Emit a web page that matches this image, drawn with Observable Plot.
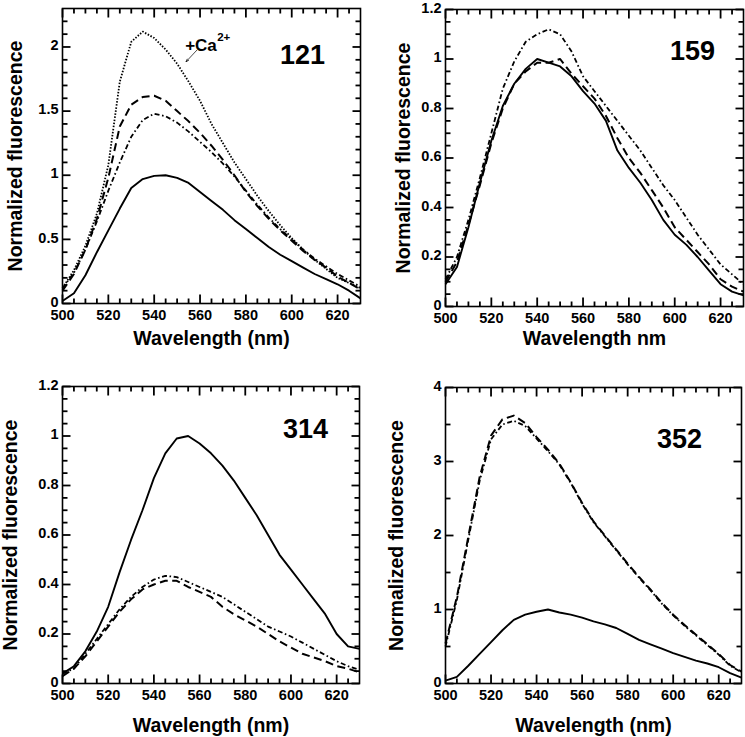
<!DOCTYPE html>
<html>
<head>
<meta charset="utf-8">
<script src="https://cdn.jsdelivr.net/npm/d3@7"></script>
<script src="https://cdn.jsdelivr.net/npm/@observablehq/plot@0.6"></script>
<style>
  body { margin: 0; background: #fff; }
  #wrap { position: relative; width: 745px; height: 737px; overflow: hidden; background: #fff; }
  #wrap svg { position: absolute; }
</style>
</head>
<body>
<div id="wrap"></div>
<script>
// ---------- data ----------
const wavelengths = [500,505,510,515,520,525,530,535,540,545,550,555,560,565,570,575,580,585,590,595,600,605,610,615,620,625,630];

// Panel 121
const p121_solid   = [0.02,0.08,0.22,0.40,0.57,0.74,0.90,0.97,0.995,1.00,0.98,0.94,0.87,0.80,0.73,0.65,0.58,0.51,0.44,0.38,0.33,0.28,0.23,0.19,0.15,0.10,0.04];
const p121_dashed  = [0.10,0.23,0.42,0.66,0.98,1.38,1.55,1.61,1.62,1.58,1.50,1.42,1.33,1.23,1.12,1.00,0.87,0.76,0.66,0.57,0.49,0.41,0.34,0.28,0.21,0.16,0.11];
const p121_dashdot = [0.12,0.24,0.42,0.64,0.88,1.10,1.30,1.43,1.48,1.46,1.41,1.34,1.26,1.18,1.09,0.99,0.88,0.77,0.67,0.58,0.50,0.42,0.35,0.29,0.23,0.18,0.13];
const p121_dotted  = [0.12,0.26,0.45,0.70,1.08,1.73,2.04,2.12,2.07,1.98,1.87,1.73,1.58,1.40,1.25,1.10,0.97,0.84,0.72,0.61,0.51,0.42,0.34,0.27,0.20,0.16,0.12];

// Panel 159
const p159_solid   = [0.09,0.16,0.32,0.50,0.67,0.81,0.90,0.96,1.00,0.985,0.97,0.93,0.87,0.82,0.75,0.63,0.56,0.50,0.43,0.35,0.29,0.25,0.20,0.145,0.09,0.06,0.045];
const p159_dashed  = [0.10,0.18,0.33,0.49,0.66,0.80,0.90,0.95,0.985,0.985,1.00,0.94,0.89,0.84,0.77,0.68,0.60,0.54,0.47,0.40,0.32,0.27,0.22,0.17,0.11,0.08,0.06];
const p159_dashdot = [0.11,0.20,0.35,0.52,0.70,0.88,0.99,1.07,1.10,1.12,1.10,1.03,0.93,0.87,0.81,0.75,0.69,0.63,0.56,0.49,0.43,0.36,0.29,0.23,0.17,0.13,0.09];

// Panel 314
const p314_solid   = [0.04,0.07,0.13,0.21,0.31,0.45,0.58,0.70,0.83,0.93,0.99,1.00,0.97,0.93,0.88,0.82,0.75,0.68,0.60,0.52,0.46,0.40,0.34,0.28,0.20,0.15,0.14];
const p314_dashed  = [0.03,0.06,0.11,0.17,0.23,0.29,0.34,0.38,0.40,0.415,0.415,0.39,0.37,0.35,0.31,0.28,0.255,0.23,0.20,0.17,0.145,0.12,0.105,0.09,0.07,0.06,0.045];
const p314_dashdot = [0.04,0.06,0.12,0.18,0.24,0.30,0.35,0.39,0.42,0.435,0.43,0.41,0.39,0.37,0.35,0.32,0.29,0.26,0.23,0.21,0.19,0.165,0.14,0.115,0.09,0.07,0.055];

// Panel 352
const p352_solid   = [0.04,0.09,0.24,0.40,0.56,0.72,0.86,0.93,0.97,1.00,0.96,0.93,0.89,0.84,0.80,0.75,0.67,0.59,0.53,0.47,0.41,0.36,0.31,0.27,0.22,0.14,0.08];
const p352_dashed  = [0.54,1.17,1.98,2.79,3.35,3.57,3.62,3.52,3.33,3.16,2.97,2.72,2.44,2.19,2.00,1.81,1.62,1.44,1.27,1.09,0.93,0.79,0.66,0.53,0.40,0.25,0.16];
const p352_dashdot = [0.50,1.13,1.94,2.74,3.30,3.50,3.55,3.48,3.31,3.14,2.96,2.71,2.43,2.18,1.99,1.80,1.61,1.43,1.26,1.08,0.92,0.78,0.65,0.52,0.39,0.24,0.15];

// Tick values and labels
const xMajor = [500,520,540,560,580,600,620];
const xMinor = [505,510,515,525,530,535,545,550,555,565,570,575,585,590,595,605,610,615,625];
const y121Major = [0,0.5,1,1.5,2];
const y121Minor = [0.1,0.2,0.3,0.4,0.6,0.7,0.8,0.9,1.1,1.2,1.3,1.4,1.6,1.7,1.8,1.9,2.1,2.2];
const y12Major = [0,0.2,0.4,0.6,0.8,1,1.2];
const y12Minor = [0.05,0.1,0.15,0.25,0.3,0.35,0.45,0.5,0.55,0.65,0.7,0.75,0.85,0.9,0.95,1.05,1.1,1.15];
const y4Major = [0,1,2,3,4];
const y4Minor = [0.5,1.5,2.5,3.5];

const panelTags = ["121","159","314","352"];
const yTitle = "Normalized fluorescence";
const xTitles = ["Wavelength (nm)","Wavelength nm","Wavelength (nm)","Wavelength (nm)"];

// "+Ca2+" annotation (wavelength, value)
const caText = ["+Ca"];
const caSup = ["2+"];
const caLabelAt = [{wl: 553.5, v: 1.98}];
const caArrow = [{wl1: 558.6, v1: 1.975, wl2: 553.9, v2: 1.885}];

// ---------- drawing ----------
const FONT = '"Liberation Sans", Arial, Helvetica, sans-serif';
const X0 = 500, X1 = 630;
const STYLES = {
  solid:   {strokeWidth: 1.9, strokeDasharray: null},
  dashed:  {strokeWidth: 2.0, strokeDasharray: "8,4.5"},
  dashdot: {strokeWidth: 1.8, strokeDasharray: "5,2.6,1.6,2.6"},
  dotted:  {strokeWidth: 1.8, strokeDasharray: "1.5,1.6"}
};
const rows = vals => wavelengths.map((wl, i) => ({wl, v: vals[i]}));

// Inward tick segments on all four sides, built from the tick value arrays;
// tick lengths are given in pixels and converted to data units through the panel size.
function tickSegments(cfg, innerW, innerH) {
  const [Y0, Y1] = cfg.yDomain;
  const uy = (Y1 - Y0) / innerH, ux = (X1 - X0) / innerW;
  const segs = [];
  let id = 0;
  const addX = (vals, len) => vals.forEach(v => {
    segs.push({id, x: v, y: Y0}, {id, x: v, y: Y0 + len * uy}); id++;
    segs.push({id, x: v, y: Y1}, {id, x: v, y: Y1 - len * uy}); id++;
  });
  const addY = (vals, len) => vals.forEach(v => {
    segs.push({id, x: X0, y: v}, {id, x: X0 + len * ux, y: v}); id++;
    segs.push({id, x: X1, y: v}, {id, x: X1 - len * ux, y: v}); id++;
  });
  addX(xMajor, 9); addX(xMinor, 5);
  addY(cfg.yMajor, 8); addY(cfg.yMinor, 5);
  return segs;
}

function panel(cfg) {
  const innerW = cfg.width - cfg.mL - cfg.mR;
  const innerH = cfg.height - cfg.mT - cfg.mB;
  const marks = [
    Plot.axisX({anchor: "bottom", ticks: xMajor, tickSize: 0, tickPadding: 6, label: null, fontSize: 14.5, tickFormat: d3.format("d")}),
    Plot.axisY({anchor: "left", ticks: cfg.yMajor, tickSize: 0, tickPadding: 4, label: null, fontSize: 14.5, dy: -1.5, tickFormat: d3.format("~g")}),
    ...cfg.series.map(s => Plot.line(rows(s.vals), {x: "wl", y: "v", stroke: "black", strokeLinecap: "butt", strokeLinejoin: "round", ...STYLES[s.kind]})),
    Plot.text([cfg.tag], {frameAnchor: "top-right", dx: cfg.tagDx, dy: cfg.tagDy, fontSize: 27, textAnchor: "middle", lineAnchor: "middle"}),
    Plot.text([cfg.xTitle], {frameAnchor: "bottom", dy: cfg.xTitleDy, fontSize: 19.5, textAnchor: "middle", lineAnchor: "middle"}),
    Plot.text([yTitle], {frameAnchor: "left", rotate: -90, dx: cfg.yTitleDx, fontSize: 19.5, textAnchor: "middle", lineAnchor: "middle"}),
    ...(cfg.extra || []),
    Plot.frame({stroke: "black", strokeWidth: 1.6}),
    Plot.line(tickSegments(cfg, innerW, innerH), {x: "x", y: "y", z: "id", stroke: "black", strokeWidth: 1.8, strokeLinecap: "butt"})
  ];
  const svg = Plot.plot({
    width: cfg.width, height: cfg.height,
    marginLeft: cfg.mL, marginRight: cfg.mR, marginTop: cfg.mT, marginBottom: cfg.mB,
    x: {domain: [X0, X1]},
    y: {domain: cfg.yDomain},
    style: {fontFamily: FONT, fontWeight: "bold", fontSize: "14.5px", color: "black", background: "white", overflow: "visible"},
    marks
  });
  svg.style.left = cfg.left + "px";
  svg.style.top = cfg.top + "px";
  document.getElementById("wrap").appendChild(svg);
}

const caMarks = [
  Plot.text(caLabelAt, {x: "wl", y: "v", text: () => caText[0], fontSize: 17, textAnchor: "start", lineAnchor: "bottom", dy: 1}),
  Plot.text(caLabelAt, {x: "wl", y: "v", text: () => caSup[0], fontSize: 11.5, textAnchor: "start", lineAnchor: "bottom", dx: 32, dy: -9}),
  Plot.arrow(caArrow, {x1: "wl1", y1: "v1", x2: "wl2", y2: "v2", stroke: "black", strokeWidth: 0.7, headLength: 6, headAngle: 40})
];

panel({left: 0, top: 0, width: 372, height: 352, mL: 62, mR: 12, mT: 8, mB: 49,
  yDomain: [0, 2.3], yMajor: y121Major, yMinor: y121Minor,
  series: [{kind: "solid", vals: p121_solid}, {kind: "dashed", vals: p121_dashed}, {kind: "dashdot", vals: p121_dashdot}, {kind: "dotted", vals: p121_dotted}],
  tag: panelTags[0], tagDx: -58, tagDy: 47, xTitle: xTitles[0], xTitleDy: 35, yTitleDx: -47, extra: caMarks});

panel({left: 372, top: 0, width: 373, height: 352, mL: 73, mR: 2, mT: 9, mB: 46,
  yDomain: [0, 1.2], yMajor: y12Major, yMinor: y12Minor,
  series: [{kind: "solid", vals: p159_solid}, {kind: "dashed", vals: p159_dashed}, {kind: "dashdot", vals: p159_dashdot}],
  tag: panelTags[1], tagDx: -51, tagDy: 42, xTitle: xTitles[1], xTitleDy: 32, yTitleDx: -41.5});

panel({left: 0, top: 352, width: 372, height: 385, mL: 62, mR: 13, mT: 34, mB: 54,
  yDomain: [0, 1.2], yMajor: y12Major, yMinor: y12Minor,
  series: [{kind: "solid", vals: p314_solid}, {kind: "dashed", vals: p314_dashed}, {kind: "dashdot", vals: p314_dashdot}],
  tag: panelTags[2], tagDx: -54, tagDy: 43, xTitle: xTitles[2], xTitleDy: 42.5, yTitleDx: -52});

panel({left: 372, top: 352, width: 373, height: 385, mL: 73, mR: 4, mT: 35, mB: 54,
  yDomain: [0, 4], yMajor: y4Major, yMinor: y4Minor,
  series: [{kind: "solid", vals: p352_solid}, {kind: "dashed", vals: p352_dashed}, {kind: "dashdot", vals: p352_dashdot}],
  tag: panelTags[3], tagDx: -62, tagDy: 52, xTitle: xTitles[3], xTitleDy: 42.5, yTitleDx: -48.5});
</script>
</body>
</html>
